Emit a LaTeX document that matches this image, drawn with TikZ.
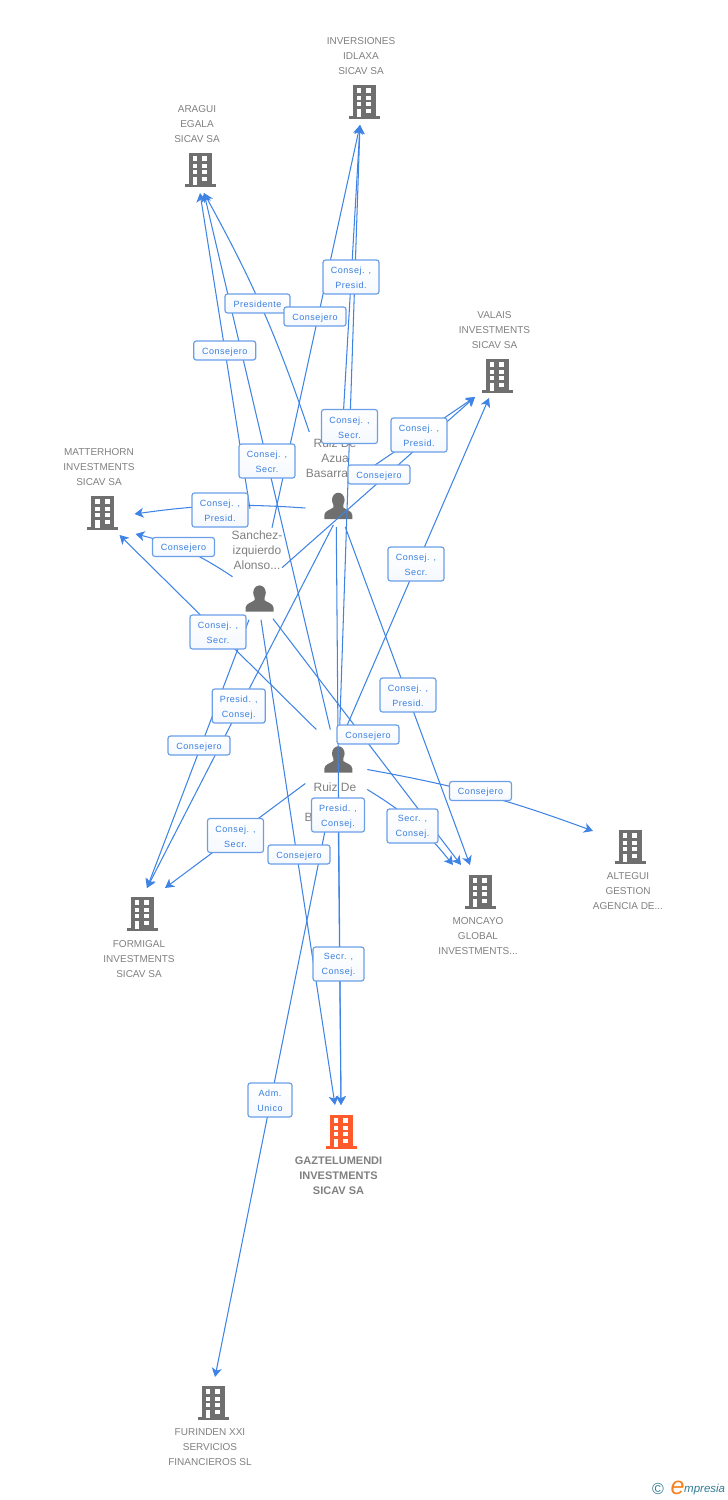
\documentclass[tikz,border=0pt]{standalone}
\usepackage{fontspec}
\setmainfont{Liberation Sans}
\newfontfamily\lblfont[LetterSpace=6]{Liberation Sans}
\usetikzlibrary{arrows.meta}
\definecolor{linkblue}{HTML}{3F84E5}
\definecolor{boxblue}{HTML}{6A9FE8}
\definecolor{txtblue}{HTML}{3A7FDE}
\definecolor{greytxt}{HTML}{808080}
\definecolor{icongrey}{HTML}{6F6F6F}
\definecolor{iconorange}{HTML}{FF5A2C}
\definecolor{logoteal}{HTML}{2F7C93}
\definecolor{logoorange}{HTML}{F58220}
\tikzset{
  pics/bldg/.style={code={
    \fill[#1] (-11.5,-17) rectangle (11.5,15);
    \fill[#1] (-15.5,14) rectangle (15.5,16.5);
    \foreach \wy in {-13.7,-6.5,0.2} {
      \fill[white] (-7.3,\wy) rectangle (-2.7,\wy+4.2);
      \fill[white] (2.3,\wy) rectangle (7,\wy+4.2);
    }
    \fill[white] (2.3,6.7) rectangle (7,11.2);
    \fill[white] (-7.3,6.7) rectangle (-2.7,14.5);
  }},
  pics/psn/.style={code={
    \fill[icongrey] (0,-6) ellipse (6.3 and 7.3);
    \fill[icongrey] (-14,13) -- (-14,9) .. controls (-13.5,4.5) and (-8,4) .. (-5,1.5)
      -- (-5,-2) -- (5,-2) -- (5,1.5) .. controls (8,4) and (13.5,4.5) .. (14,9) -- (14,13) -- cycle;
  }},
  anchorpt/.style={inner sep=0pt,minimum size=2pt},
  conn/.style={draw=linkblue,line width=1.05pt,-{Stealth[length=9pt,width=10pt,inset=2.5pt]}},
  comp/.style={inner sep=0pt,align=center,text=greytxt,font=\fontsize{10}{15}\selectfont},
  compb/.style={inner sep=0pt,align=center,text=greytxt,font=\fontsize{11}{15}\selectfont\bfseries},
  pers/.style={inner sep=0pt,align=center,text=greytxt,font=\fontsize{12}{15}\selectfont},
  lblbase/.style={inner sep=0pt,draw=boxblue,line width=1.2pt,rounded corners=2.5pt,
    top color=white,bottom color=white!93!boxblue},
  lbltxt/.style={inner sep=0pt,align=center,text=txtblue,yshift=-1.2pt,font=\lblfont\fontsize{9}{15}\selectfont},
  lblone/.style={lblbase,minimum width=62pt,minimum height=19pt},
  lbltwo/.style={lblbase,minimum width=#1,minimum height=34pt},
  lbltwo/.default=56pt
}
\newcommand\lnk[6]{\draw[conn] ([shift={(#2,#3)}]#1.center) -- ([shift={(#5,#6)}]#4.center);}
\newcommand\lnkb[7]{\draw[conn] ([shift={(#2,#3)}]#1.center) to[#7] ([shift={(#5,#6)}]#4.center);}
\newcommand\lbl[4]{\node[#1] (#2) at #3 {}; \node[lbltxt] (#2t) at (#2) {#4};}
\begin{document}
\begin{tikzpicture}[x=1pt,y=-1pt]
\useasboundingbox (0,0) rectangle (728,1500);
% entities
\node[anchorpt] (inv) at (364,102) {};
\node[anchorpt] (ara) at (200,170) {};
\node[anchorpt] (val) at (497,376) {};
\node[anchorpt] (mat) at (102.5,513) {};
\node[anchorpt] (fo) at (142,914) {};
\node[anchorpt] (mon) at (480,892) {};
\node[anchorpt] (alt) at (630,847) {};
\node[anchorpt] (gaz) at (341,1132) {};
\node[anchorpt] (fur) at (213,1403) {};
\node[anchorpt] (pa) at (338.3,506) {};
\node[anchorpt] (ps) at (259.5,598.7) {};
\node[anchorpt] (pb) at (338.3,759.5) {};
\pic at (inv) {bldg=icongrey};
\pic at (ara) {bldg=icongrey};
\pic at (val) {bldg=icongrey};
\pic at (mat) {bldg=icongrey};
\pic at (fo) {bldg=icongrey};
\pic at (mon) {bldg=icongrey};
\pic at (alt) {bldg=icongrey};
\pic at (gaz) {bldg=iconorange};
\pic at (fur) {bldg=icongrey};
\pic at (pa) {psn};
\pic at (ps) {psn};
\pic at (pb) {psn};
% entity texts
\node[comp] (tinv) at (361,56) {INVERSIONES\\IDLAXA\\SICAV SA};
\node[comp] (tara) at (197,124) {ARAGUI\\EGALA\\SICAV SA};
\node[comp] (tval) at (494.5,330) {VALAIS\\INVESTMENTS\\SICAV SA};
\node[comp] (tmat) at (99,467) {MATTERHORN\\INVESTMENTS\\SICAV SA};
\node[comp] (tfo) at (139,959) {FORMIGAL\\INVESTMENTS\\SICAV SA};
\node[comp] (tmon) at (478,936) {MONCAYO\\GLOBAL\\INVESTMENTS...};
\node[comp] (talt) at (628,891) {ALTEGUI\\GESTION\\AGENCIA DE...};
\node[compb] (tgaz) at (338.5,1176) {GAZTELUMENDI\\INVESTMENTS\\SICAV SA};
\node[comp] (tfur) at (210,1447) {FURINDEN XXI\\SERVICIOS\\FINANCIEROS SL};
\node[pers] (tpa) at (335,458.5) {Ruiz De\\Azua\\Basarra\rule{16pt}{0pt}};
\node[pers] (tps) at (257,550.5) {Sanchez-\\izquierdo\\Alonso...};
\node[pers] (tpb) at (335,787) {Ruiz De};
\node[pers] (tpbb) at (335,817) {B\hspace{46pt}..};
% connectors
\lnkb{pa}{-29}{-74}{ara}{4}{23}{bend right=5}
\lnk{pa}{4}{-74}{inv}{-4}{23}
\lnkb{pa}{-33}{2}{mat}{32}{1}{bend right=6}
\lnk{pa}{-5}{19}{fo}{5}{-26}
\lnk{pa}{-2}{21}{gaz}{0}{-27}
\lnk{pa}{7}{21}{mon}{-10}{-27}
\lnk{pa}{25}{-33}{val}{-22}{21}
\lnkb{ps}{-27}{-22}{mat}{33}{21}{bend right=10}
\lnk{ps}{-9.5}{-90}{ara}{0}{23}
\lnk{ps}{12.5}{-71}{inv}{-4}{23}
\lnk{ps}{22.5}{-31}{val}{-22}{21}
\lnk{ps}{-10.5}{21}{fo}{5}{-26}
\lnk{ps}{1.5}{21}{gaz}{-6}{-27}
\lnk{ps}{13.5}{20}{mon}{-19}{-27}
\lnk{pb}{-22}{-30}{mat}{17}{22}
\lnk{pb}{-8}{-30}{ara}{4}{23}
\lnk{pb}{1.5}{-35}{inv}{-4}{23}
\lnk{pb}{7}{-30}{val}{-8}{22}
\lnk{pb}{-33}{24}{fo}{23}{-26}
\lnk{pb}{-11}{60}{fur}{2}{-26}
\lnk{pb}{0}{63}{gaz}{0}{-27}
\lnkb{pb}{29}{30}{mon}{-27}{-27}{bend left=10}
\lnkb{pb}{29}{10}{alt}{-37}{-16}{bend left=5}
% link labels
\lbl{lbltwo}{l1}{(351,277)}{Consej. ,\\Presid.}
\lbl{lblone,minimum width=65pt}{l2}{(257.5,303.5)}{Presidente}
\lbl{lblone}{l3}{(315,316.5)}{Consejero}
\lbl{lblone}{l4}{(224.7,350.5)}{Consejero}
\lbl{lbltwo}{l5}{(349.5,426.5)}{Consej. ,\\Secr.}
\lbl{lbltwo}{l6}{(419,435)}{Consej. ,\\Presid.}
\lbl{lbltwo}{l7}{(267,461)}{Consej. ,\\Secr.}
\lbl{lblone}{l8}{(379,474.5)}{Consejero}
\lbl{lbltwo}{l9}{(220,510)}{Consej. ,\\Presid.}
\lbl{lblone}{l10}{(183.5,547)}{Consejero}
\lbl{lbltwo}{l11}{(416,564)}{Consej. ,\\Secr.}
\lbl{lbltwo}{l12}{(218,632)}{Consej. ,\\Secr.}
\lbl{lbltwo}{l13}{(408,695)}{Consej. ,\\Presid.}
\lbl{lbltwo=53pt}{l14}{(238.7,706)}{Presid. ,\\Consej.}
\lbl{lblone}{l15}{(368,734.5)}{Consejero}
\lbl{lblone}{l16}{(199,745.5)}{Consejero}
\lbl{lblone}{l17}{(480.5,791)}{Consejero}
\lbl{lbltwo=53pt}{l18}{(338,815)}{Presid. ,\\Consej.}
\lbl{lbltwo=51pt}{l19}{(412.5,826)}{Secr. ,\\Consej.}
\lbl{lbltwo}{l20}{(235.5,835.5)}{Consej. ,\\Secr.}
\lbl{lblone}{l21}{(299,854.5)}{Consejero}
\lbl{lbltwo=51pt}{l22}{(338.5,964)}{Secr. ,\\Consej.}
\lbl{lbltwo=44pt}{l23}{(270,1100)}{Adm.\\Unico}
% logo
\node[inner sep=0pt,text=logoteal,font=\fontsize{16}{16}\selectfont] (logoc) at (658,1489) {©};
\node[inner sep=0pt,anchor=base west,text=logoorange,font=\itshape\fontsize{25}{25}\selectfont] (logoe) at (670.5,1494) {e};
\node[inner sep=0pt,anchor=base west,text=logoteal,font=\itshape\fontsize{11.5}{12}\selectfont] (logot) at (684,1492.7) {mpresia};
\end{tikzpicture}
\end{document}
